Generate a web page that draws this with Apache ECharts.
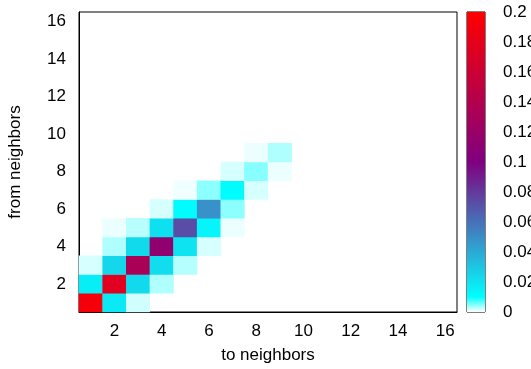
<!DOCTYPE html>
<html>
<head>
<meta charset="utf-8">
<script src="https://cdn.jsdelivr.net/npm/echarts@6/dist/echarts.min.js"></script>
<style>
html,body{margin:0;padding:0;background:#fff;}
#chart{width:531px;height:369px;}
</style>
</head>
<body>
<div id="chart"></div>
<script>
// ---- data ----
var xCategories = ['1','2','3','4','5','6','7','8','9','10','11','12','13','14','15','16'];
var yCategories = ['1','2','3','4','5','6','7','8','9','10','11','12','13','14','15','16'];
// non-zero cells (to neighbors, from neighbors, value); all other cells are 0
var cellTo   = [1, 2, 3,    1, 2, 3, 4,      1, 2, 3, 4, 5,      2, 3, 4, 5, 6,      2, 3, 4, 5, 6, 7,      4, 5, 6, 7,      5, 6, 7, 8,      7, 8, 9,      8, 9];
var cellFrom = [1, 1, 1,    2, 2, 2, 2,      3, 3, 3, 3, 3,      4, 4, 4, 4, 4,      5, 5, 5, 5, 5, 5,      6, 6, 6, 6,      7, 7, 7, 7,      8, 8, 8,      9, 9];
var cellValue = [0.192, 0.018, 0.0018,
                 0.016, 0.176, 0.023, 0.0031,
                 0.0016, 0.024, 0.133, 0.022, 0.0029,
                 0.0031, 0.023, 0.113, 0.020, 0.0016,
                 0.0008, 0.0027, 0.021, 0.073, 0.0135, 0.0008,
                 0.0016, 0.011, 0.049, 0.0045,
                 0.0006, 0.0045, 0.011, 0.0016,
                 0.0016, 0.0047, 0.0008,
                 0.0008, 0.0031];
var cbMin = 0, cbMax = 0.2, cbStep = 0.02;

// ---- palette (white -> cyan -> purple -> red) ----
var paletteStops = [[0, [255,255,255]], [0.01, [0,255,255]], [0.1, [128,0,128]], [0.2, [255,0,0]]];
function paletteAt(v){
  for (var i = 1; i < paletteStops.length; i++) {
    if (v <= paletteStops[i][0] + 1e-12) {
      var a = paletteStops[i-1], b = paletteStops[i];
      var t = (v - a[0]) / (b[0] - a[0]);
      var c = a[1].map(function(x, k){ return Math.round(x + (b[1][k]-x)*t); });
      return 'rgb(' + c.join(',') + ')';
    }
  }
  return 'rgb(255,0,0)';
}
var paletteList = [];
for (var s = 0; s <= 20; s++) paletteList.push(paletteAt(s * 0.01));
var gradStops = paletteStops.map(function(p){
  return {offset: 1 - p[0] / cbMax, color: 'rgb(' + p[1].join(',') + ')'};
}).reverse();

var heatData = cellValue.map(function(v, i){ return [cellTo[i]-1, cellFrom[i]-1, v]; });

var FONT = '"Liberation Sans", Arial, sans-serif';
var FS = 17;

var chart = echarts.init(document.getElementById('chart'), null, {renderer:'canvas'});
chart.setOption({
  animation: false,
  backgroundColor: '#fff',
  textStyle: {fontFamily: FONT, color: '#000'},
  grid: [
    {left: 79, top: 12, width: 378, height: 300, show: true, borderColor: '#000', borderWidth: 1, backgroundColor: 'transparent', containLabel: false, outerBoundsMode: 'none'},
    {left: 467, top: 12, width: 18, height: 300, show: true, borderColor: '#000', borderWidth: 1, backgroundColor: 'transparent', containLabel: false, outerBoundsMode: 'none'}
  ],
  xAxis: [
    {type: 'category', gridIndex: 0, data: xCategories,
     name: 'to neighbors', nameLocation: 'middle', nameGap: 35,
     nameTextStyle: {fontSize: FS, color: '#000', fontFamily: FONT},
     axisLine: {show: true, lineStyle: {color: '#000', width: 1}},
     axisTick: {show: false}, splitLine: {show: false},
     axisLabel: {interval: 0, margin: 11, fontSize: FS, color: '#000', fontFamily: FONT,
       formatter: function(v){ return (+v) % 2 === 0 ? v : ''; }}},
    {type: 'category', gridIndex: 1, data: ['c'], show: false}
  ],
  yAxis: [
    {type: 'category', gridIndex: 0, data: yCategories,
     name: 'from neighbors', nameLocation: 'middle', nameGap: 55, nameRotate: 90,
     nameTextStyle: {fontSize: FS, color: '#000', fontFamily: FONT},
     axisLine: {show: true, lineStyle: {color: '#000', width: 1}},
     axisTick: {show: false}, splitLine: {show: false},
     axisLabel: {interval: 0, margin: 13, fontSize: FS, color: '#000', fontFamily: FONT,
       formatter: function(v){ return (+v) % 2 === 0 ? v : ''; }}},
    {type: 'value', gridIndex: 1, position: 'right', min: cbMin, max: cbMax, interval: cbStep,
     axisLine: {show: false}, axisTick: {show: false}, splitLine: {show: false},
     axisLabel: {margin: 18, fontSize: FS, color: '#000', fontFamily: FONT, align: 'left',
       formatter: function(v){ return String(Math.round(v * 100) / 100); }}}
  ],
  visualMap: {
    show: false, type: 'continuous', seriesIndex: 0, dimension: 2,
    min: cbMin, max: cbMax, inRange: {color: paletteList}
  },
  series: [
    {type: 'heatmap', xAxisIndex: 0, yAxisIndex: 0, data: heatData,
     itemStyle: {borderWidth: 0}, emphasis: {disabled: true}, z: 1},
    {type: 'bar', xAxisIndex: 1, yAxisIndex: 1, data: [cbMax], barWidth: '100%',
     itemStyle: {color: new echarts.graphic.LinearGradient(0, 0, 0, 1, gradStops)}, silent: true, z: 1}
  ]
});
</script>
</body>
</html>
